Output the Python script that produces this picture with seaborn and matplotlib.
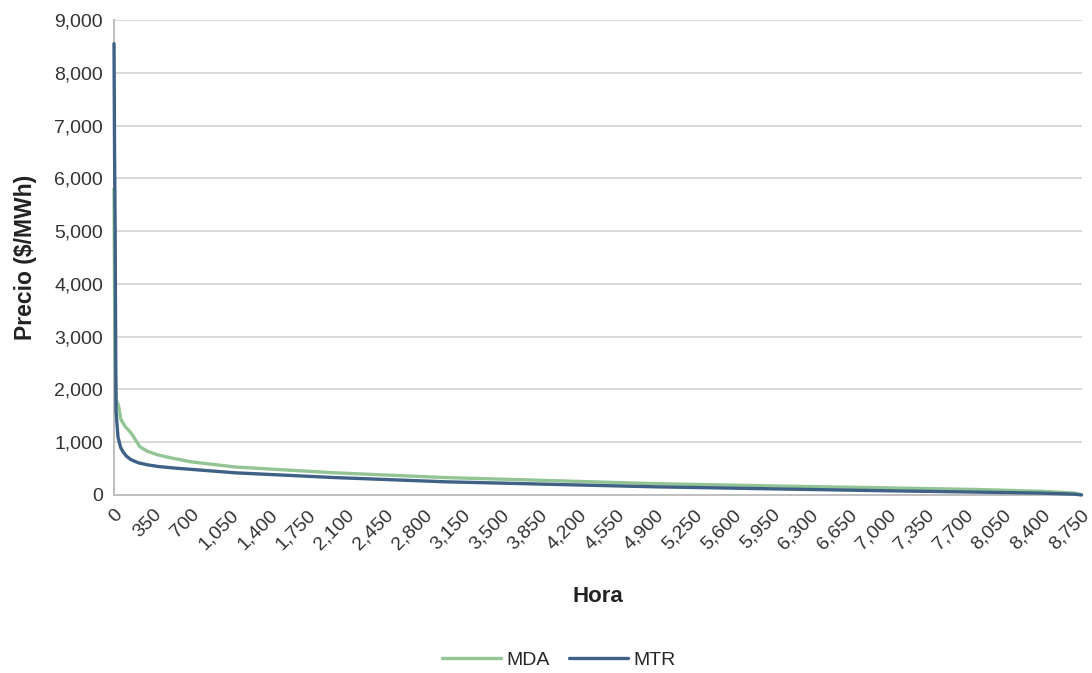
import matplotlib
matplotlib.use("Agg")
import matplotlib.pyplot as plt
import seaborn as sns
import pandas as pd
from matplotlib.ticker import FuncFormatter, MultipleLocator

# duration curves (hour rank vs price)
mda_hours = [0, 8, 20, 40, 63, 100, 153, 234, 300, 396, 500, 693, 1098, 2000,
             3000, 4000, 4900, 6000, 7000, 7800, 8400, 8700, 8760]
mda_price = [5800, 2600, 1800, 1700, 1430, 1300, 1180, 915, 830, 760, 710, 630,
             530, 420, 330, 270, 215, 170, 135, 105, 70, 35, 5]

mtr_hours = [0, 5, 10, 18, 36, 60, 81, 110, 153, 220, 306, 400, 550, 1098, 2000,
             3000, 4000, 4900, 6000, 7000, 7800, 8400, 8700, 8760]
mtr_price = [8550, 6500, 5100, 1600, 1100, 900, 820, 740, 670, 610, 570, 540,
             510, 420, 330, 250, 200, 155, 115, 80, 55, 35, 15, 0]

series_names = ["MDA", "MTR"]
series_colors = ["#93c594", "#3e6185"]

df = pd.concat([
    pd.DataFrame({"Hora": mda_hours, "Precio": mda_price, "Serie": "MDA"}),
    pd.DataFrame({"Hora": mtr_hours, "Precio": mtr_price, "Serie": "MTR"}),
])

sns.set_style("white")
plt.rcParams["font.family"] = ["Liberation Sans", "DejaVu Sans"]

fig = plt.figure(figsize=(10.92, 6.73), dpi=100)
ax = fig.add_axes([0.1044, 0.2645, 0.886, 0.7058])

sns.lineplot(
    data=df,
    x="Hora",
    y="Precio",
    hue="Serie",
    hue_order=series_names,
    palette=series_colors,
    linewidth=2.4,
    ax=ax,
)
for ln in ax.get_lines():
    ln.set_zorder(4)
    ln.set_clip_on(False)

ax.set_xlim(0, 8760)
ax.set_ylim(0, 9000)
ax.yaxis.set_major_locator(MultipleLocator(1000))
ax.xaxis.set_major_locator(MultipleLocator(350))
fmt = FuncFormatter(lambda v, p: f"{int(v):,}")
ax.yaxis.set_major_formatter(fmt)
ax.xaxis.set_major_formatter(fmt)

ax.grid(axis="y", color="#d9d9d9", linewidth=1.4)
ax.set_axisbelow(True)
for s in ["top", "right"]:
    ax.spines[s].set_visible(False)
for s in ["left", "bottom"]:
    ax.spines[s].set_color("#bfbfbf")
    ax.spines[s].set_linewidth(1.4)
    ax.spines[s].set_zorder(2)

ax.tick_params(axis="both", length=0, labelsize=14, colors="#333333", pad=8)
plt.setp(ax.get_xticklabels(), rotation=45, ha="right", rotation_mode="anchor")

ax.set_xlabel("Hora", fontsize=16, fontweight="bold", color="#222222", labelpad=24)
ax.set_ylabel("Precio ($/MWh)", fontsize=16.5, fontweight="bold", color="#222222", labelpad=12)

ax.legend(
    loc="center",
    bbox_to_anchor=(0.46, -0.347),
    ncol=2,
    frameon=False,
    fontsize=14,
    handlelength=3.0,
    columnspacing=1.0,
    handletextpad=0.3,
)

plt.savefig("out.png", dpi=100)
plt.close()
